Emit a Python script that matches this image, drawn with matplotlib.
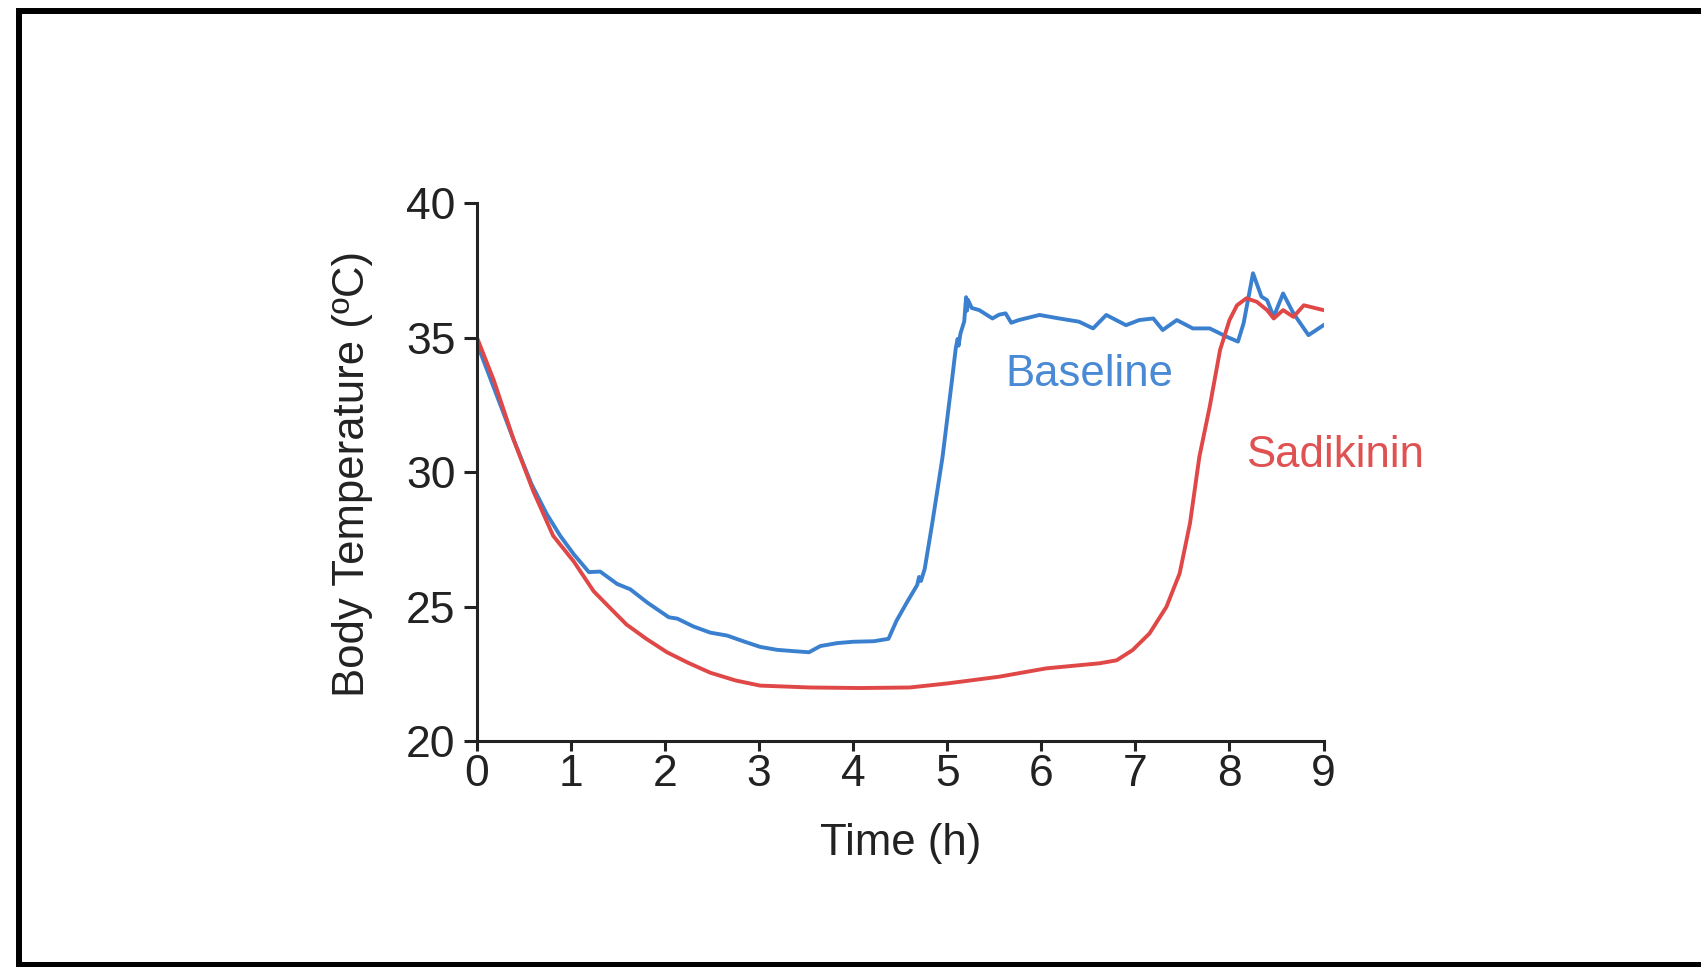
import matplotlib
matplotlib.use("Agg")
import matplotlib.pyplot as plt
from matplotlib.lines import Line2D

plt.rcParams['font.family'] = ['Liberation Sans', 'DejaVu Sans']

# Baseline series (time in h, body temperature in C)
base_t = [0, 0.18, 0.39, 0.58, 0.74, 0.885, 1.03, 1.19, 1.31, 1.49, 1.63, 1.81,
          2.04, 2.13, 2.30, 2.48, 2.66, 2.83, 3.01, 3.19, 3.37, 3.53, 3.65, 3.83,
          4.0, 4.22, 4.375, 4.46, 4.57, 4.68, 4.70, 4.72, 4.76, 4.84, 4.95, 5.05,
          5.09, 5.11, 5.12, 5.14, 5.18, 5.20, 5.21, 5.22, 5.26, 5.34, 5.48, 5.55,
          5.62, 5.68, 5.76, 5.98, 6.19, 6.40, 6.55, 6.69, 6.90, 7.04, 7.19, 7.29,
          7.44, 7.61, 7.79, 7.97, 8.09, 8.15, 8.25, 8.34, 8.40, 8.47, 8.57, 8.68,
          8.84, 9.0]
base_temp = [34.78, 33.13, 31.2, 29.55, 28.45, 27.63, 26.94, 26.28, 26.30, 25.84, 25.64, 25.15,
             24.6, 24.55, 24.26, 24.03, 23.92, 23.71, 23.5, 23.39, 23.34, 23.3, 23.53, 23.64,
             23.69, 23.71, 23.8, 24.47, 25.15, 25.8, 26.1, 25.95, 26.4, 28.09, 30.57, 33.42,
             34.6, 34.95, 34.7, 35.15, 35.6, 36.5, 36.0, 36.4, 36.1, 36.02, 35.71, 35.85,
             35.9, 35.55, 35.65, 35.84, 35.71, 35.59, 35.34, 35.84, 35.46, 35.65, 35.71, 35.28,
             35.65, 35.34, 35.34, 35.03, 34.85, 35.53, 37.39, 36.52, 36.39, 35.77, 36.64, 35.9,
             35.09, 35.46]

# Sadikinin series
sadi_t = [0, 0.18, 0.39, 0.60, 0.81, 1.03, 1.24, 1.4, 1.59, 1.8, 2.02, 2.25, 2.48,
          2.75, 3.01, 3.54, 4.07, 4.60, 5.0, 5.55, 6.05, 6.62, 6.80, 6.97, 7.15,
          7.33, 7.47, 7.58, 7.68, 7.79, 7.90, 8.0, 8.08, 8.18, 8.29, 8.40, 8.47,
          8.57, 8.68, 8.79, 9.0]
sadi_temp = [35.0, 33.4, 31.2, 29.28, 27.63, 26.67, 25.57, 25.0, 24.33, 23.8, 23.3, 22.9, 22.54,
             22.25, 22.06, 21.99, 21.97, 21.99, 22.14, 22.39, 22.7, 22.89, 23.0, 23.38, 24.0,
             24.99, 26.23, 28.09, 30.57, 32.43, 34.54, 35.65, 36.2, 36.46, 36.33, 36.02, 35.71,
             36.02, 35.77, 36.2, 36.02]

x_ticks = list(range(10))
y_ticks = [20, 25, 30, 35, 40]

BLUE = '#3b80cf'
RED = '#e04747'
INK = '#222222'

fig = plt.figure(figsize=(17.01, 9.67), dpi=100)
ax = fig.add_axes([0.2804, 0.2337, 0.4977, 0.5563])

ax.plot(base_t, base_temp, color=BLUE, lw=2.8, solid_joinstyle='round')
ax.plot(sadi_t, sadi_temp, color=RED, lw=2.8, solid_joinstyle='round')

ax.set_xlim(0, 9)
ax.set_ylim(20, 40)
ax.set_xticks(x_ticks)
ax.set_yticks(y_ticks)
for s in ['top', 'right']:
    ax.spines[s].set_visible(False)
for s in ['left', 'bottom']:
    ax.spines[s].set_linewidth(2.2)
    ax.spines[s].set_color(INK)
ax.tick_params(direction='out', width=2.2, labelsize=32, color=INK, labelcolor=INK)
ax.tick_params(axis='x', length=7.5, pad=2)
ax.tick_params(axis='y', length=9.5, pad=6)

ax.set_xlabel('Time (h)', fontsize=31.5, va='center', color=INK)
ax.xaxis.set_label_coords(0.5, -0.19)
ax.set_ylabel('Body Temperature (ºC)', fontsize=31.5, va='center', color=INK)
ax.yaxis.set_label_coords(-0.147, 0.497)

ax.text(6.51, 33.63, 'Baseline', color='#4a89d4', fontsize=31.5, ha='center', va='center')
ax.text(9.12, 30.61, 'Sadikinin', color='#e05252', fontsize=31.5, ha='center', va='center',
        clip_on=False)

# frame around the picture (left, top, bottom only)
fig.add_artist(Line2D([1.0, 0.0109, 0.0109, 1.0], [0.9886, 0.9886, 0.0025, 0.0025],
                      transform=fig.transFigure, color='black', lw=4.3,
                      solid_joinstyle='miter'))

fig.savefig('out.png', dpi=100)
